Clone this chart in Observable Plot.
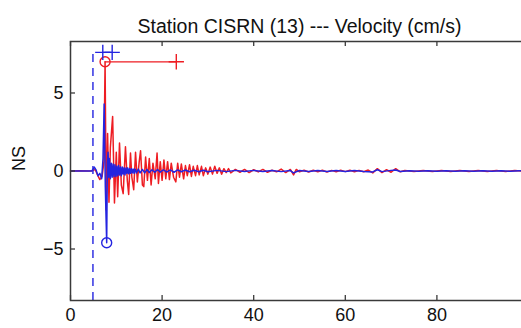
<!DOCTYPE html>
<html>
<head>
<meta charset="utf-8">
<script src="https://cdn.jsdelivr.net/npm/d3@7"></script>
<script src="https://cdn.jsdelivr.net/npm/@observablehq/plot@0.6"></script>
<style>
  html, body { margin: 0; padding: 0; background: #fff; overflow: hidden; }
  #chart svg { display: block; }
</style>
</head>
<body>
<div id="chart"></div>
<script>
// ---- data ----
const titleText = "Station CISRN (13) --- Velocity (cm/s)";
const yLabel = "NS";
const xTicks = [0, 20, 40, 60, 80];
const yTicks = [-5, 0, 5];

// red trace (time s, velocity cm/s)
const redT = [0, 2, 4, 4.9, 5.4, 5.9, 6.4, 6.9, 7.3, 7.55, 7.8, 8.1, 8.4, 8.7, 9.2, 9.6, 10.0, 10.3, 10.7, 11.1, 11.5, 12.0, 12.4, 12.7, 13.1, 13.4, 13.8, 14.2, 14.6, 15.0, 15.3, 15.7, 16.0, 16.4, 16.8, 17.2, 17.6, 18.0, 18.5, 18.9, 19.2, 19.6, 20.0, 20.4, 20.8, 21.2, 21.6, 22.0, 22.5, 23.0, 23.4, 23.8, 24.2, 24.7, 25.1, 25.5, 26.0, 26.4, 26.8, 27.3, 27.7, 28.1, 28.6, 29.0, 29.5, 30.0, 30.5, 31.0, 31.5, 32.0, 32.5, 33.0, 33.5, 34.0, 34.5, 35.0, 36, 37, 38, 39, 40, 41, 42, 43, 44, 45, 46, 47, 48, 48.7, 49.3, 50, 51, 52, 53, 54, 55, 56, 57, 58, 59, 60, 61, 62, 63, 64, 65, 66, 67, 68, 69, 70, 71, 72, 73, 75, 77, 79, 81, 83, 85, 87, 89, 91, 93, 95, 97, 99, 100];
const redV = [0, 0.02, 0, 0.02, 0.1, -0.25, -0.55, -0.35, 0.6, 7.0, -2.5, 2.4, -2.0, 1.5, 3.5, -2.05, 1.2, -1.65, 1.8, -0.9, -1.45, 1.55, -0.6, -1.5, 1.15, -0.4, -1.2, 1.2, -0.7, 0.6, 1.3, -0.9, -1.0, 0.9, -0.6, 0.8, -0.9, 0.5, -0.5, 1.15, -0.8, 0.6, -0.6, 0.7, -0.5, 0.6, -0.55, 0.5, -0.4, -0.7, 0.5, -0.4, 0.45, -0.5, 0.35, -0.3, 0.4, -0.35, 0.3, -0.3, 0.35, -0.25, 0.3, -0.3, 0.2, -0.2, 0.25, -0.2, 0.3, -0.15, 0.2, -0.2, 0.15, -0.1, 0.15, -0.12, 0.1, -0.08, 0.1, -0.1, 0.08, -0.06, 0.1, -0.08, 0.05, -0.05, 0.12, -0.1, 0.1, -0.25, 0.1, -0.05, 0.05, -0.06, 0.05, -0.05, 0.05, -0.06, 0.04, -0.05, 0.05, -0.04, 0.05, -0.05, 0.04, -0.05, 0.06, -0.12, 0.15, -0.1, 0.08, -0.08, 0.15, -0.05, 0.03, -0.03, 0.03, -0.03, 0.03, -0.03, 0.03, -0.03, 0.03, -0.03, 0.03, -0.03, 0.03, -0.02, 0];

// blue trace (time s, velocity cm/s)
const blueT = [0, 2, 4.6, 4.9, 5.2, 5.6, 6.0, 6.4, 6.8, 7.1, 7.35, 7.6, 7.9, 8.05, 8.2, 8.35, 8.5, 8.7, 8.9, 9.1, 9.3, 9.5, 9.7, 9.9, 10.1, 10.3, 10.5, 10.7, 10.9, 11.1, 11.3, 11.5, 11.7, 11.9, 12.1, 12.3, 12.5, 12.7, 12.9, 13.1, 13.3, 13.5, 13.7, 13.9, 14.1, 14.4, 14.8, 15.2, 15.7, 16.2, 16.7, 17.2, 17.8, 18.4, 19.0, 19.6, 20.3, 21.0, 21.8, 22.6, 23.4, 24.2, 25.0, 26, 27, 28, 29, 30, 32, 34, 36, 38, 40, 42, 44, 46, 48, 48.7, 50, 52, 54, 56, 58, 60, 62, 64, 66, 67, 68, 70, 71, 72, 74, 76, 78, 80, 82, 84, 86, 88, 90, 92, 94, 96, 98, 100];
const blueV = [0, 0, 0, 0.1, 0.25, 0.05, -0.3, -0.15, -0.5, 0.8, 4.3, -1.0, -4.6, 0.6, 1.2, -0.4, 0.8, -0.5, 0.5, -0.4, 0.45, -0.35, 0.4, -0.35, 0.3, -0.3, 0.35, -0.25, 0.25, -0.3, 0.25, -0.2, 0.2, -0.25, 0.2, -0.15, 0.2, -0.18, 0.15, -0.15, 0.15, -0.12, 0.12, -0.15, 0.12, -0.12, 0.12, -0.12, 0.1, -0.12, 0.1, -0.1, 0.08, -0.08, 0.1, -0.07, 0.08, -0.07, 0.07, -0.08, 0.07, -0.05, 0.06, -0.05, 0.05, -0.05, 0.05, -0.05, 0.04, -0.04, 0.04, -0.03, 0.04, -0.03, 0.03, -0.04, 0.03, -0.12, 0.03, -0.03, 0.03, -0.03, 0.03, -0.03, 0.03, -0.03, -0.06, 0.08, -0.04, 0.04, 0.06, -0.03, 0.02, -0.02, 0.02, -0.02, 0.02, -0.02, 0.02, -0.02, 0.02, -0.02, 0.02, -0.02, 0.02, 0];

// picks
const pTime = [4.9];            // dashed blue vertical pick
const pTop = [7.6];
const redPickT = [7.55, 23.1];
const redPickV = [7.0, 7.0];
const bluePickT = [7.05, 9.1];
const bluePickV = [7.6, 7.6];
const blueMinT = [7.9];
const blueMinV = [-4.6];

// ---- layout ----
const W = 521, H = 328;
const mL = 70, mT = 41, mB = 28, mR = -7;
const frameW = W - mL - mR, frameH = H - mT - mB;
const RED = "#ee1d23", BLUE = "#2424e0", AX = "#3a3a3a";
const FONT = "Liberation Sans, Arial, Helvetica, sans-serif";

const idx = a => a.map((_, i) => i);

const chart = Plot.plot({
  width: W, height: H,
  marginLeft: mL, marginTop: mT, marginBottom: mB, marginRight: mR,
  style: { fontFamily: FONT, fontSize: "18px", background: "#fff", color: "#111" },
  x: { domain: [0, 100] },
  y: { domain: [-8.3, 8.3] },
  marks: [
    // traces
    Plot.line(idx(redT), { x: i => redT[i], y: i => redV[i], stroke: RED, strokeWidth: 1.5 }),
    Plot.line(idx(blueT), { x: i => blueT[i], y: i => blueV[i], stroke: BLUE, strokeWidth: 1.5 }),
    // pick markers
    Plot.ruleX(pTime, { x: d => d, y1: -8.3, y2: (d, i) => pTop[i], stroke: BLUE, strokeWidth: 1.4, strokeDasharray: "8,6" }),
    Plot.line(idx(redPickT), { x: i => redPickT[i], y: i => redPickV[i], stroke: RED, strokeWidth: 1.3 }),
    Plot.dot([0], { x: () => redPickT[0], y: () => redPickV[0], r: 5, stroke: RED, strokeWidth: 1.4 }),
    Plot.dot([0], { x: () => redPickT[1], y: () => redPickV[1], symbol: "plus", r: 5, stroke: RED, strokeWidth: 1.4 }),
    Plot.line(idx(bluePickT), { x: i => bluePickT[i], y: i => bluePickV[i], stroke: BLUE, strokeWidth: 1.3 }),
    Plot.dot(idx(bluePickT), { x: i => bluePickT[i], y: i => bluePickV[i], symbol: "plus", r: 5, stroke: BLUE, strokeWidth: 1.4 }),
    Plot.dot(idx(blueMinT), { x: i => blueMinT[i], y: i => blueMinV[i], r: 5, stroke: BLUE, strokeWidth: 1.4 }),
    // box + inward ticks
    Plot.frame({ stroke: AX, strokeWidth: 1.5 }),
    Plot.tickX(xTicks, { x: d => d, insetTop: frameH - 5, stroke: AX, strokeWidth: 1.3 }),
    Plot.tickX(xTicks, { x: d => d, insetBottom: frameH - 5, stroke: AX, strokeWidth: 1.3 }),
    Plot.tickY(yTicks, { y: d => d, insetRight: frameW - 5, stroke: AX, strokeWidth: 1.3 }),
    // tick labels
    Plot.axisX({ ticks: xTicks, tickSize: 0, tickPadding: 8, fontSize: 18, label: null }),
    Plot.axisY({ ticks: yTicks, tickSize: 0, tickPadding: 7, fontSize: 18, label: null }),
    // y label
    Plot.text([yLabel], { frameAnchor: "left", dx: -51, rotate: -90, fontSize: 18, fill: "#111" }),
    // title
    Plot.text([titleText], { frameAnchor: "top", dy: -22, fontSize: 19.5, fill: "#111" })
  ]
});
document.getElementById("chart").appendChild(chart);
</script>
</body>
</html>
